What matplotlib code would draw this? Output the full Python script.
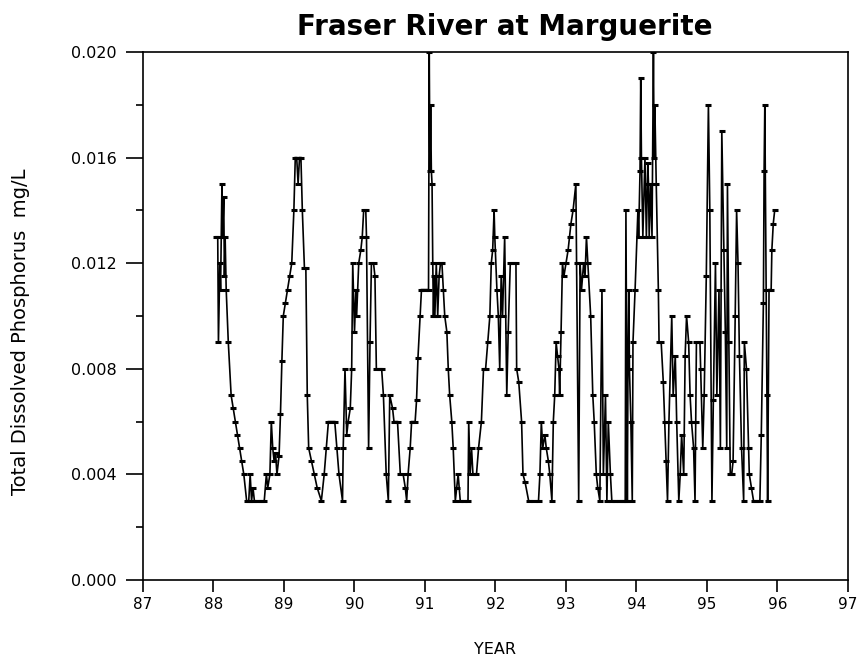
import matplotlib
matplotlib.use("Agg")
import matplotlib.pyplot as plt

plt.rcParams['font.family'] = ['DejaVu Sans']

title = "Fraser River at Marguerite"
x_label = "YEAR"
y_label = "Total Dissolved Phosphorus  mg/L"

x_ticks = [87, 88, 89, 90, 91, 92, 93, 94, 95, 96, 97]
x_tick_labels = ["87", "88", "89", "90", "91", "92", "93", "94", "95", "96", "97"]
y_ticks = [0.000, 0.004, 0.008, 0.012, 0.016, 0.020]
y_tick_labels = ["0.000", "0.004", "0.008", "0.012", "0.016", "0.020"]
y_minor_ticks = [0.002, 0.006, 0.010, 0.014, 0.018]

years = [
    88.03, 88.06, 88.07, 88.09, 88.10, 88.12, 88.13, 88.145, 88.155, 88.165,
    88.18, 88.21, 88.25, 88.28, 88.31, 88.34, 88.37, 88.40, 88.43, 88.47,
    88.50, 88.52, 88.54, 88.56, 88.58, 88.63, 88.68, 88.72, 88.75, 88.77,
    88.80, 88.82, 88.84, 88.86, 88.88, 88.90, 88.93, 88.95, 88.97, 88.99,
    89.02, 89.05, 89.08, 89.11, 89.14, 89.16, 89.18, 89.20, 89.22, 89.24,
    89.26, 89.29, 89.31, 89.33, 89.35, 89.39, 89.43, 89.47, 89.53, 89.57,
    89.60, 89.63, 89.67, 89.72, 89.75, 89.78, 89.83,
    89.84, 89.865, 89.89, 89.91, 89.94, 89.96, 89.975, 90.00, 90.02, 90.03,
    90.06, 90.09, 90.11, 90.13, 90.16, 90.17, 90.20, 90.22, 90.24, 90.27,
    90.29, 90.31, 90.36, 90.385, 90.41, 90.45, 90.48, 90.50, 90.54, 90.56,
    90.61, 90.65, 90.69, 90.72, 90.74, 90.76, 90.79, 90.81, 90.86, 90.88,
    90.90, 90.93, 90.95, 91.00, 91.05, 91.06, 91.07, 91.08, 91.09, 91.10,
    91.11, 91.12, 91.13, 91.14, 91.16, 91.18, 91.20, 91.22, 91.24, 91.26,
    91.28, 91.31, 91.33, 91.35, 91.38, 91.40, 91.43, 91.45, 91.47, 91.50,
    91.55, 91.61, 91.62, 91.64, 91.66, 91.68, 91.73, 91.76, 91.80, 91.83,
    91.86, 91.89, 91.92, 91.94, 91.96, 91.98, 91.99, 92.02, 92.04, 92.06,
    92.08, 92.10, 92.13, 92.16, 92.18, 92.21, 92.25, 92.29, 92.30, 92.33,
    92.37, 92.39, 92.42, 92.47, 92.54, 92.61, 92.63, 92.65, 92.67, 92.70,
    92.72, 92.75, 92.77, 92.80, 92.82, 92.84, 92.86, 92.88, 92.90, 92.91,
    92.93, 92.95, 92.97, 93.00, 93.03, 93.05, 93.07, 93.10, 93.14, 93.15,
    93.18, 93.20, 93.22, 93.25, 93.27, 93.29, 93.31, 93.35, 93.38, 93.40,
    93.43, 93.45, 93.48, 93.51, 93.53, 93.56, 93.58, 93.60, 93.63, 93.65,
    93.70, 93.75, 93.80, 93.84, 93.85, 93.87, 93.88, 93.89, 93.90, 93.92,
    93.94, 93.95, 93.98, 94.02, 94.03, 94.05, 94.06, 94.07, 94.09, 94.12,
    94.14, 94.16, 94.17, 94.18, 94.20, 94.22, 94.24, 94.25, 94.26, 94.28,
    94.31, 94.32, 94.35, 94.38, 94.40, 94.42, 94.44, 94.46, 94.50, 94.52,
    94.55, 94.57, 94.60, 94.62, 94.64, 94.67, 94.69, 94.71, 94.74, 94.76,
    94.78, 94.81, 94.83, 94.84, 94.85, 94.90, 94.91, 94.94, 94.96, 94.99,
    95.02, 95.04, 95.07, 95.09, 95.12, 95.14, 95.17, 95.19, 95.21, 95.24,
    95.26, 95.28, 95.29, 95.31, 95.33, 95.35, 95.37, 95.40, 95.42, 95.44,
    95.46, 95.49, 95.52, 95.53, 95.56, 95.59, 95.60, 95.63, 95.66, 95.70,
    95.75, 95.77, 95.80, 95.81, 95.82, 95.84, 95.85, 95.86, 95.88, 95.91,
    95.92, 95.94, 95.96,
]

tdp = [
    0.013, 0.013, 0.009, 0.012, 0.011, 0.015, 0.013, 0.0145, 0.0115, 0.013,
    0.011, 0.009, 0.007, 0.0065, 0.006, 0.0055, 0.005, 0.0045, 0.004, 0.003,
    0.003, 0.004, 0.003, 0.0035, 0.003, 0.003, 0.003, 0.003, 0.004, 0.0035,
    0.004, 0.006, 0.005, 0.0045, 0.0048, 0.004, 0.0047, 0.0063, 0.0083, 0.010,
    0.0105, 0.011, 0.0115, 0.012, 0.014, 0.016, 0.016, 0.015, 0.016, 0.016,
    0.014, 0.0118, 0.0118, 0.007, 0.005, 0.0045, 0.004, 0.0035, 0.003, 0.004,
    0.005, 0.006, 0.006, 0.006, 0.005, 0.004, 0.003,
    0.005, 0.008, 0.0055, 0.006, 0.0065, 0.008, 0.012, 0.0094, 0.011, 0.010,
    0.012, 0.0125, 0.013, 0.014, 0.014, 0.013, 0.005, 0.009, 0.012, 0.012,
    0.0115, 0.008, 0.008, 0.008, 0.007, 0.004, 0.003, 0.007, 0.0065, 0.006,
    0.006, 0.004, 0.004, 0.0035, 0.003, 0.004, 0.005, 0.006, 0.006, 0.0068,
    0.0084, 0.010, 0.011, 0.011, 0.011, 0.020, 0.0155, 0.018, 0.0155, 0.015,
    0.012, 0.010, 0.0115, 0.010, 0.012, 0.010, 0.0115, 0.012, 0.012, 0.011,
    0.010, 0.0094, 0.008, 0.007, 0.006, 0.005, 0.003, 0.0035, 0.004, 0.003,
    0.003, 0.003, 0.006, 0.004, 0.005, 0.004, 0.004, 0.005, 0.006, 0.008,
    0.008, 0.009, 0.010, 0.012, 0.0125, 0.014, 0.013, 0.011, 0.010, 0.008,
    0.0115, 0.010, 0.013, 0.007, 0.0094, 0.012, 0.012, 0.012, 0.008, 0.0075,
    0.006, 0.004, 0.0037, 0.003, 0.003, 0.003, 0.004, 0.006, 0.005, 0.0055,
    0.005, 0.0045, 0.004, 0.003, 0.006, 0.007, 0.009, 0.0085, 0.008, 0.007,
    0.0094, 0.012, 0.0115, 0.012, 0.0125, 0.013, 0.0135, 0.014, 0.015, 0.012,
    0.003, 0.012, 0.011, 0.012, 0.0115, 0.013, 0.012, 0.010, 0.007, 0.006,
    0.004, 0.0035, 0.003, 0.011, 0.004, 0.007, 0.003, 0.006, 0.004, 0.003,
    0.003, 0.003, 0.003, 0.003, 0.014, 0.003, 0.0085, 0.011, 0.008, 0.006,
    0.003, 0.009, 0.011, 0.014, 0.013, 0.0155, 0.019, 0.016, 0.013, 0.016,
    0.013, 0.0158, 0.015, 0.013, 0.015, 0.013, 0.020, 0.016, 0.018, 0.015,
    0.011, 0.009, 0.009, 0.0075, 0.006, 0.0045, 0.003, 0.006, 0.010, 0.007,
    0.0085, 0.006, 0.003, 0.004, 0.0055, 0.004, 0.0085, 0.010, 0.009, 0.007,
    0.006, 0.005, 0.003, 0.006, 0.009, 0.009, 0.008, 0.005, 0.007, 0.0115,
    0.018, 0.014, 0.003, 0.0068, 0.012, 0.007, 0.011, 0.005, 0.017, 0.0125,
    0.0094, 0.005, 0.015, 0.009, 0.004, 0.004, 0.0045, 0.010, 0.014, 0.012,
    0.0085, 0.005, 0.003, 0.009, 0.008, 0.005, 0.004, 0.0035, 0.003, 0.003,
    0.003, 0.0055, 0.0105, 0.0155, 0.018, 0.011, 0.007, 0.003, 0.011, 0.011,
    0.0125, 0.0135, 0.014,
]

fig = plt.figure(figsize=(8.62, 6.61), dpi=100)
ax = fig.add_axes([143 / 862, 1 - 580 / 661, (848 - 143) / 862, (580 - 52) / 661])

ax.plot(years, tdp, color='black', linewidth=1.2, marker='_',
        markersize=5, markeredgewidth=2.2, solid_joinstyle='miter')

ax.set_xlim(87, 97)
ax.set_ylim(0.0, 0.020)
ax.set_xticks(x_ticks)
ax.set_xticklabels(x_tick_labels)
ax.set_yticks(y_ticks)
ax.set_yticklabels(y_tick_labels)
ax.set_yticks(y_minor_ticks, minor=True)

for s in ax.spines.values():
    s.set_linewidth(1.2)
    s.set_color('black')

ax.tick_params(axis='x', which='major', direction='out', length=8.6, width=1.2,
               labelsize=11, pad=3.6, top=False)
ax.tick_params(axis='y', which='major', direction='out', length=12.2, width=1.2,
               labelsize=11.5, pad=6.5, right=False)
ax.tick_params(axis='y', which='minor', direction='out', length=5, width=1.2,
               right=False)

ax.set_xlabel(x_label, fontsize=11.5, labelpad=22)
ax.set_ylabel(y_label, fontsize=14)
ax.yaxis.set_label_coords(-0.16, 0.47)
ax.set_title(title, fontsize=20, fontweight='bold', x=0.513, pad=12)

fig.savefig("out.png", dpi=100)
